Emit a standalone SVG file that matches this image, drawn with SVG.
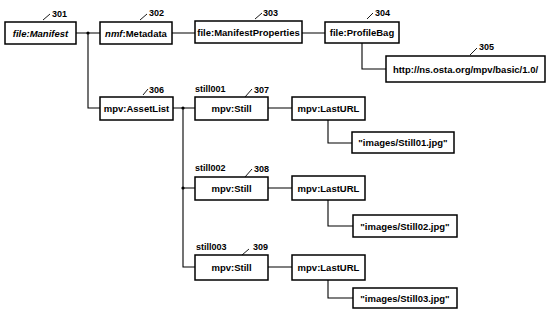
<svg xmlns="http://www.w3.org/2000/svg" width="548" height="322" viewBox="0 0 548 322">
<style>
.box{fill:#fff;stroke:#000;stroke-width:1.5}
.t{font-family:"Liberation Sans",Arial,sans-serif;font-size:9.5px;font-weight:bold;text-anchor:middle;fill:#000}
.n{font-family:"Liberation Sans",Arial,sans-serif;font-size:9px;font-weight:bold;fill:#000}
.c{fill:none;stroke:#000;stroke-width:1.1}
.l{fill:none;stroke:#000;stroke-width:0.9}
</style>
<rect width="548" height="322" fill="#fff"/>
<g id="connectors">
<path class="c" d="M76 33H100M88 33V108H100"/>
<circle cx="88" cy="33" r="1.6"/>
<path class="c" d="M172 33H195M302 33H325"/>
<path class="c" d="M362 43V69H386"/>
<path class="c" d="M173 108H195M183 108V267H195M183 188H195"/>
<circle cx="183" cy="108" r="1.6"/>
<circle cx="183" cy="188" r="1.6"/>
<path class="c" d="M268 108H292M268 188H292M268 267H292"/>
<path class="c" d="M328 120V143H352M328 200V226H353M328 280V298H353"/>
</g>
<g id="n301"><rect class="box" x="5" y="22" width="71" height="22"/><text class="t" x="40.5" y="36.5" font-style="italic">file:Manifest</text><path class="l" d="M43 20L50 14"/><text class="n" x="52" y="17">301</text></g>
<g id="n302"><rect class="box" x="100" y="22" width="72" height="22"/><text class="t" x="136" y="36.5"><tspan font-style="italic">nmf</tspan>:Metadata</text><path class="l" d="M140 20L147 14"/><text class="n" x="149" y="16">302</text></g>
<g id="n303"><rect class="box" x="195" y="21" width="107" height="22"/><text class="t" x="248.5" y="35.5" font-size="9">file:ManifestProperties</text><path class="l" d="M255 19L262 13"/><text class="n" x="263" y="16">303</text></g>
<g id="n304"><rect class="box" x="325" y="22" width="74" height="21"/><text class="t" x="362" y="36">file:ProfileBag</text><path class="l" d="M367 19L373 13"/><text class="n" x="375" y="16">304</text></g>
<g id="n305"><rect class="box" x="386" y="56" width="159" height="26"/><text class="t" x="465.5" y="72.5">http://ns.osta.org/mpv/basic/1.0/</text><path class="l" d="M470 55L477 48"/><text class="n" x="479" y="50">305</text></g>
<g id="n306"><rect class="box" x="100" y="97" width="73" height="23"/><text class="t" x="136.5" y="112">mpv:AssetList</text><path class="l" d="M143 95L148 89"/><text class="n" x="149" y="93">306</text></g>
<g id="n307"><rect class="box" x="195" y="97" width="73" height="23"/><text class="t" x="231.5" y="112">mpv:Still</text><text class="n" x="195" y="92" font-size="8">still001</text><path class="l" d="M245 97L252 89"/><text class="n" x="254" y="93">307</text></g>
<g id="lu1"><rect class="box" x="292" y="97" width="73" height="23"/><text class="t" x="328.5" y="112">mpv:LastURL</text></g>
<g id="im1"><rect class="box" x="352" y="132" width="102" height="21"/><text class="t" x="403" y="146">"images/Still01.jpg"</text></g>
<g id="n308"><rect class="box" x="195" y="177" width="73" height="23"/><text class="t" x="231.5" y="192">mpv:Still</text><text class="n" x="195" y="171" font-size="8">still002</text><path class="l" d="M245 177L252 169"/><text class="n" x="254" y="172">308</text></g>
<g id="lu2"><rect class="box" x="292" y="176" width="73" height="24"/><text class="t" x="328.5" y="191.5">mpv:LastURL</text></g>
<g id="im2"><rect class="box" x="353" y="215" width="104" height="22"/><text class="t" x="405" y="229.5">"images/Still02.jpg"</text></g>
<g id="n309"><rect class="box" x="195" y="255" width="73" height="25"/><text class="t" x="231.5" y="271">mpv:Still</text><text class="n" x="196" y="250" font-size="8">still003</text><path class="l" d="M242 255L249 249"/><text class="n" x="253" y="250">309</text></g>
<g id="lu3"><rect class="box" x="292" y="255" width="73" height="25"/><text class="t" x="328.5" y="271">mpv:LastURL</text></g>
<g id="im3"><rect class="box" x="353" y="288" width="104" height="20"/><text class="t" x="405" y="301.5">"images/Still03.jpg"</text></g>
</svg>
